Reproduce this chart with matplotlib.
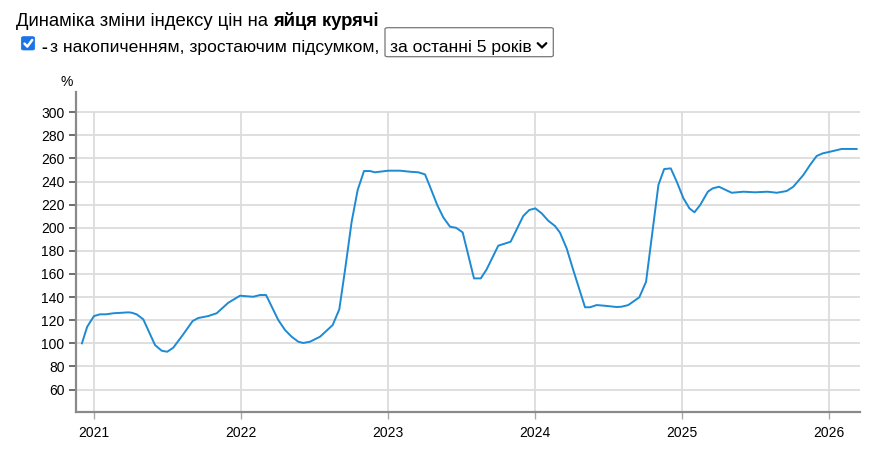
import matplotlib
matplotlib.use("Agg")
import matplotlib.pyplot as plt
from matplotlib.patches import FancyBboxPatch
from matplotlib.lines import Line2D

plt.rcParams['font.family'] = ['Liberation Sans', 'DejaVu Sans']

# ---- data (decimal year, cumulative price index, %) ----
years_t = [2020.918, 2020.954, 2021.000, 2021.041, 2021.082, 2021.131, 2021.233, 2021.256,
           2021.290, 2021.335, 2021.415, 2021.460, 2021.498, 2021.539, 2021.607, 2021.671,
           2021.709, 2021.777, 2021.834, 2021.913, 2021.993, 2022.083, 2022.129, 2022.170,
           2022.253, 2022.299, 2022.344, 2022.389, 2022.423, 2022.469, 2022.537, 2022.623,
           2022.668, 2022.707, 2022.752, 2022.793, 2022.836, 2022.877, 2022.911, 2023.001,
           2023.081, 2023.149, 2023.205, 2023.251, 2023.285, 2023.334, 2023.375, 2023.421,
           2023.462, 2023.507, 2023.584, 2023.630, 2023.670, 2023.749, 2023.833, 2023.919,
           2023.960, 2024.001, 2024.044, 2024.089, 2024.135, 2024.169, 2024.214, 2024.259,
           2024.339, 2024.373, 2024.418, 2024.475, 2024.554, 2024.588, 2024.633, 2024.708,
           2024.754, 2024.838, 2024.877, 2024.922, 2024.963, 2025.008, 2025.049, 2025.083,
           2025.122, 2025.174, 2025.207, 2025.250, 2025.336, 2025.415, 2025.495, 2025.581,
           2025.643, 2025.710, 2025.755, 2025.823, 2025.869, 2025.914, 2025.955, 2026.005,
           2026.084, 2026.186]
index_pct = [100.0, 114.4, 123.6, 125.1, 125.1, 126.0, 126.8, 126.5,
             125.1, 120.8, 98.5, 93.6, 92.7, 96.2, 107.8, 119.3,
             121.9, 123.6, 126.0, 135.1, 141.2, 140.3, 141.8, 141.8,
             120.2, 111.5, 105.7, 101.4, 100.3, 101.4, 105.7, 115.8,
             129.4, 163.4, 205.2, 232.7, 249.1, 249.1, 248.0, 249.4,
             249.4, 248.5, 248.0, 246.2, 235.5, 219.7, 209.0, 200.9,
             200.0, 196.0, 156.2, 156.2, 164.0, 184.5, 187.9, 210.2,
             215.4, 216.8, 212.5, 206.1, 201.5, 195.7, 182.2, 163.4,
             131.2, 131.2, 133.1, 132.5, 131.4, 131.7, 133.1, 139.8,
             153.3, 237.0, 250.8, 251.4, 239.8, 225.5, 216.8, 213.4,
             219.7, 231.2, 234.1, 235.5, 230.3, 231.2, 230.7, 231.2,
             230.3, 231.8, 235.5, 245.6, 254.3, 262.1, 264.4, 265.8,
             268.2, 268.2]

x_ticks = [2021, 2022, 2023, 2024, 2025, 2026]
x_labels = ["2021", "2022", "2023", "2024", "2025", "2026"]
y_ticks = [60, 80, 100, 120, 140, 160, 180, 200, 220, 240, 260, 280, 300]

title_normal = "Динаміка зміни індексу цін на "
title_bold = "яйця курячі"
option_text = "з накопиченням, зростаючим підсумком,"
select_text = "за останні 5 років"

W, H = 892, 459
fig = plt.figure(figsize=(W / 100, H / 100), dpi=100)
fig.patch.set_facecolor("white")

def fx(x):
    return x / W

def fy(y):
    return 1 - y / H

ax = fig.add_axes([fx(75.7), fy(412.3), fx(860) - fx(75.7), fy(92) - fy(412.3)])
ax.set_xlim(2020.8756, 2026.2088)
ax.set_ylim(40.3, 317.5)

grid_c = "#dcdcdc"
ax.set_yticks(y_ticks)
ax.set_yticklabels([str(v) for v in y_ticks])
ax.yaxis.grid(True, color=grid_c, lw=1.3, zorder=0)
ax.set_xticks(x_ticks)
ax.set_xticklabels(x_labels)
ax.vlines(x_ticks, ax.get_ylim()[0], max(y_ticks), color=grid_c, lw=1.3, zorder=0)

ax.plot(years_t, index_pct, color="#1d8ad3", lw=1.4, zorder=3)

for s in ["top", "right"]:
    ax.spines[s].set_visible(False)
for s in ["left", "bottom"]:
    ax.spines[s].set_color("#8a8a8a")
    ax.spines[s].set_linewidth(1.6)

ax.tick_params(axis="y", direction="out", length=5, width=1.2, color="#555555",
               labelsize=10, pad=3, labelcolor="black")
ax.tick_params(axis="x", direction="out", length=5, width=1.0, color="#aaaaaa",
               labelsize=10, pad=5, labelcolor="black")

fig.text(fx(66.5), fy(82), "%", ha="center", va="center", fontsize=10)

# ---- header ----
t1 = fig.text(fx(16), fy(26), title_normal, fontsize=13.3, ha="left", va="baseline")
fig.canvas.draw()
r = fig.canvas.get_renderer()
bb = t1.get_window_extent(r)
fig.text(bb.x1 / W, fy(26), title_bold, fontsize=13.3, fontweight="bold",
         ha="left", va="baseline")

# checkbox
cb = FancyBboxPatch((fx(21.3), fy(50)), fx(13.4), 13.4 / H,
                    boxstyle="round,pad=0,rounding_size=0.003",
                    transform=fig.transFigure, facecolor="#1a73e8", edgecolor="#1a73e8",
                    lw=0.5)
fig.add_artist(cb)
fig.add_artist(Line2D([fx(24.5), fx(27.3), fx(32.2)], [fy(43.6), fy(46.6), fy(40.0)],
                      transform=fig.transFigure, color="white", lw=1.8,
                      solid_capstyle="round", solid_joinstyle="round"))
fig.text(fx(41.2), fy(51.7), "-", fontsize=12.6, fontweight="bold", ha="left", va="baseline")
fig.text(fx(50), fy(51.7), option_text, fontsize=12.6, ha="left", va="baseline")

# select box
sb = FancyBboxPatch((fx(385), fy(56.7)), fx(553.3) - fx(385), (56.7 - 27.7) / H,
                    boxstyle="round,pad=0,rounding_size=0.003",
                    transform=fig.transFigure, facecolor="white", edgecolor="#767676",
                    lw=0.9)
fig.add_artist(sb)
fig.text(fx(390), fy(52.3), select_text, fontsize=12.6, ha="left", va="baseline")
fig.add_artist(Line2D([fx(537.7), fx(542), fx(546.3)], [fy(43.2), fy(47.4), fy(43.2)],
                      transform=fig.transFigure, color="black", lw=1.6,
                      solid_capstyle="round", solid_joinstyle="miter"))

fig.savefig("out.png", dpi=100)
